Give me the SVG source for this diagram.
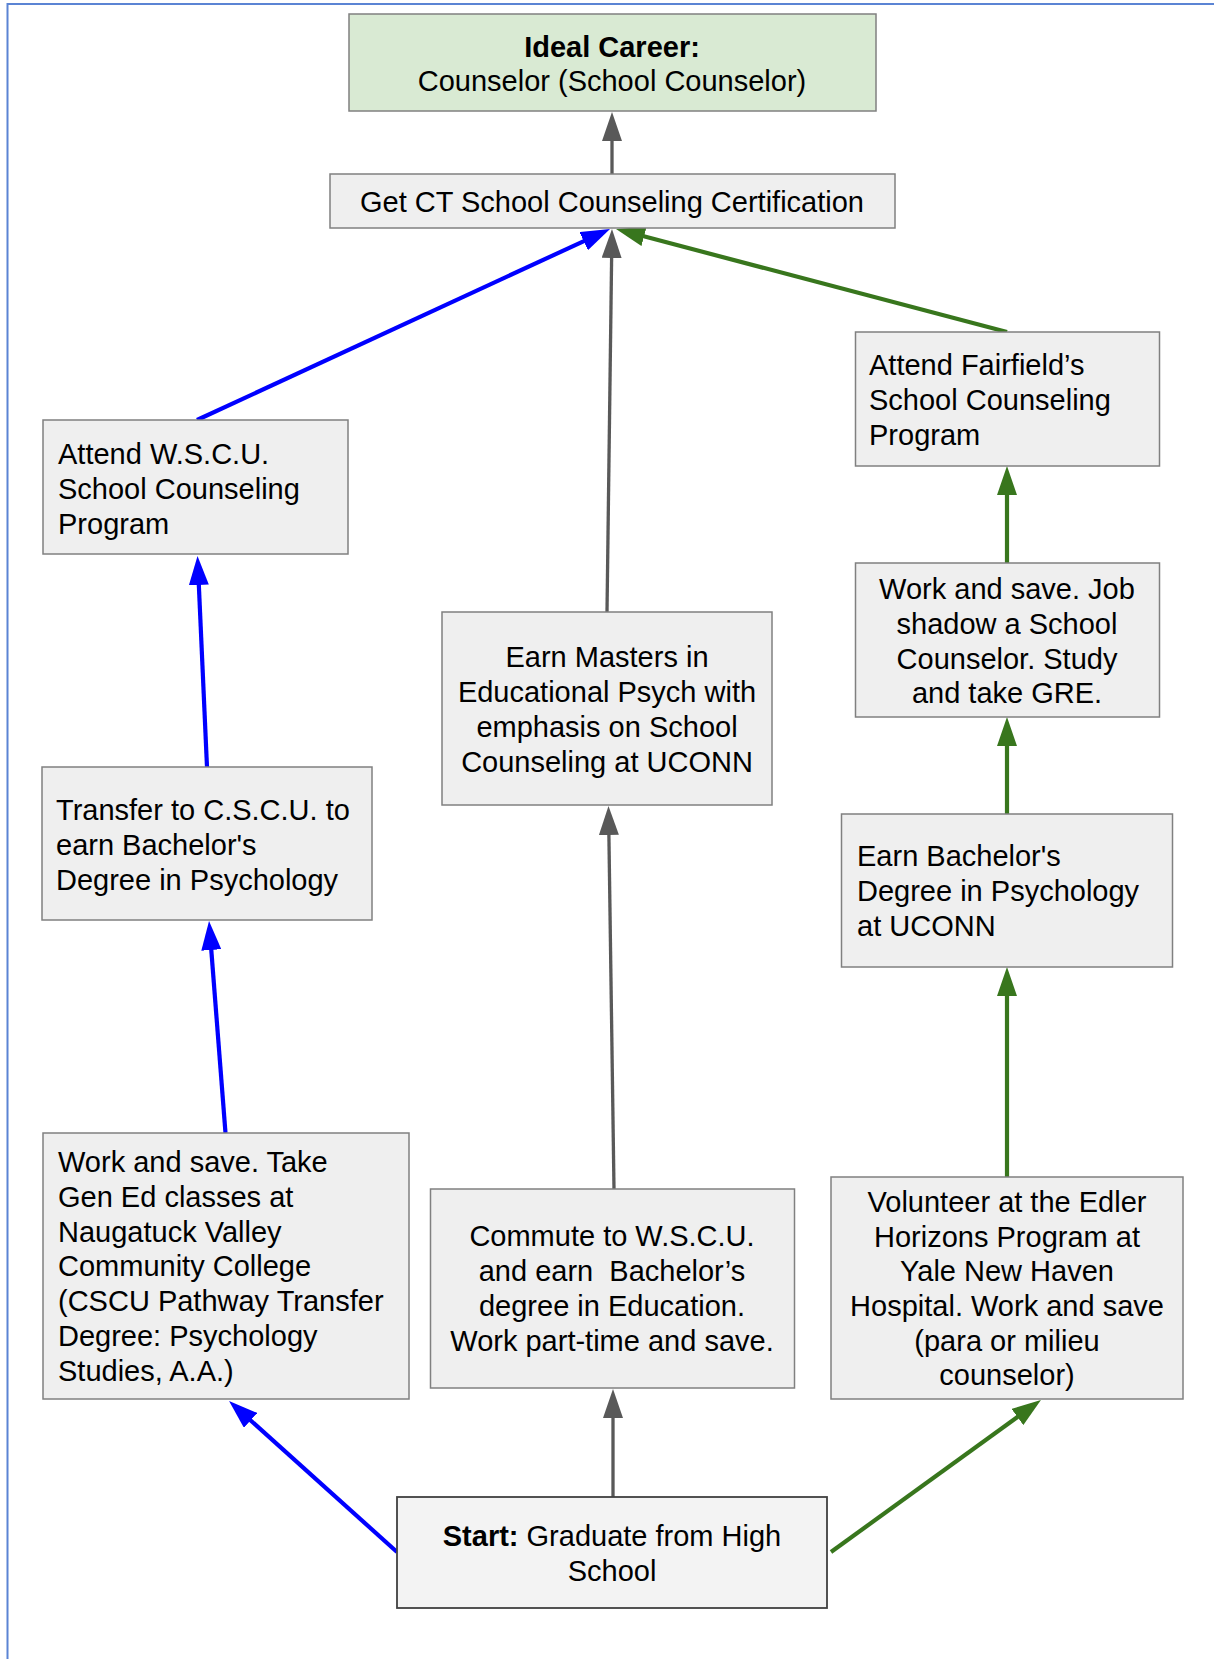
<svg xmlns="http://www.w3.org/2000/svg" width="1214" height="1659" viewBox="0 0 1214 1659">
<defs>
<style>
.box{fill:#efefef;stroke:#808080;stroke-width:1.5}
.t{font-family:"Liberation Sans",Arial,sans-serif;font-size:29px;fill:#000}
.c{text-anchor:middle}
.b{font-weight:bold}
.grey{stroke:#595959;stroke-width:3.3;fill:none}
.blue{stroke:#0000ff;stroke-width:4.2;fill:none}
.green{stroke:#38761d;stroke-width:4.2;fill:none}
</style>
<marker id="ag" viewBox="0 0 29 20" refX="14" refY="10" markerWidth="29" markerHeight="20" markerUnits="userSpaceOnUse" orient="auto"><path d="M0,0 L29,10 L0,20 z" fill="#595959"/></marker>
<marker id="ab" viewBox="0 0 29 20" refX="14" refY="10" markerWidth="29" markerHeight="20" markerUnits="userSpaceOnUse" orient="auto"><path d="M0,0 L29,10 L0,20 z" fill="#0000ff"/></marker>
<marker id="an" viewBox="0 0 29 20" refX="14" refY="10" markerWidth="29" markerHeight="20" markerUnits="userSpaceOnUse" orient="auto"><path d="M0,0 L29,10 L0,20 z" fill="#38761d"/></marker>
</defs>
<rect x="0" y="0" width="1214" height="1659" fill="#ffffff"/>
<path d="M7.5,1659 L7.5,4 L1214,4" fill="none" stroke="#5b84d4" stroke-width="2"/>

<g id="connectors">
<line class="grey" x1="612" y1="174" x2="612" y2="127" marker-end="url(#ag)"/>
<line class="blue" x1="197" y1="420" x2="596.4" y2="235.3" marker-end="url(#ab)"/>
<line class="grey" x1="607" y1="612" x2="611.8" y2="244" marker-end="url(#ag)"/>
<line class="green" x1="1007" y1="332" x2="630.5" y2="232.8" marker-end="url(#an)"/>
<line class="blue" x1="207" y1="767" x2="198.2" y2="571" marker-end="url(#ab)"/>
<line class="blue" x1="225.5" y1="1133" x2="210.2" y2="936" marker-end="url(#ab)"/>
<line class="grey" x1="614" y1="1189" x2="608.7" y2="821" marker-end="url(#ag)"/>
<line class="green" x1="1007" y1="1177" x2="1007" y2="982" marker-end="url(#an)"/>
<line class="green" x1="1007" y1="814" x2="1007" y2="732" marker-end="url(#an)"/>
<line class="green" x1="1007" y1="563" x2="1007" y2="481" marker-end="url(#an)"/>
<line class="blue" x1="397" y1="1552" x2="240.2" y2="1411" marker-end="url(#ab)"/>
<line class="grey" x1="613" y1="1497" x2="613" y2="1404" marker-end="url(#ag)"/>
<line class="green" x1="831" y1="1552" x2="1028.8" y2="1408.8" marker-end="url(#an)"/>
</g>

<g id="ideal">
<rect x="349" y="14" width="527" height="97" fill="#d9ead3" stroke="#808080" stroke-width="1.5"/>
<text class="t c b" x="612" y="57">Ideal Career:</text>
<text class="t c" x="612" y="91">Counselor (School Counselor)</text>
</g>

<g id="cert">
<rect class="box" x="330" y="174" width="565" height="54"/>
<text class="t c" x="612" y="212">Get CT School Counseling Certification</text>
</g>

<g id="wscu">
<rect class="box" x="43" y="420" width="305" height="134"/>
<text class="t" x="58" y="464">Attend W.S.C.U.</text>
<text class="t" x="58" y="499">School Counseling</text>
<text class="t" x="58" y="534">Program</text>
</g>

<g id="fairfield">
<rect class="box" x="855.5" y="332" width="304" height="134"/>
<text class="t" x="869" y="375">Attend Fairfield’s</text>
<text class="t" x="869" y="410">School Counseling</text>
<text class="t" x="869" y="445">Program</text>
</g>

<g id="masters">
<rect class="box" x="442" y="612" width="330" height="193"/>
<text class="t c" x="607" y="667">Earn Masters in</text>
<text class="t c" x="607" y="702">Educational Psych with</text>
<text class="t c" x="607" y="737">emphasis on School</text>
<text class="t c" x="607" y="772">Counseling at UCONN</text>
</g>

<g id="jobshadow">
<rect class="box" x="855.5" y="563" width="304" height="154"/>
<text class="t c" x="1007" y="599">Work and save. Job</text>
<text class="t c" x="1007" y="634">shadow a School</text>
<text class="t c" x="1007" y="669">Counselor. Study</text>
<text class="t c" x="1007" y="703">and take GRE.</text>
</g>

<g id="transfer">
<rect class="box" x="42" y="767" width="330" height="153"/>
<text class="t" x="56" y="820">Transfer to C.S.C.U. to</text>
<text class="t" x="56" y="855">earn Bachelor's</text>
<text class="t" x="56" y="890">Degree in Psychology</text>
</g>

<g id="uconnba">
<rect class="box" x="841.5" y="814" width="331" height="153"/>
<text class="t" x="857" y="866">Earn Bachelor's</text>
<text class="t" x="857" y="901">Degree in Psychology</text>
<text class="t" x="857" y="936">at UCONN</text>
</g>

<g id="nvcc">
<rect class="box" x="43" y="1133" width="366" height="266"/>
<text class="t" x="58" y="1172">Work and save. Take</text>
<text class="t" x="58" y="1207">Gen Ed classes at</text>
<text class="t" x="58" y="1242">Naugatuck Valley</text>
<text class="t" x="58" y="1276">Community College</text>
<text class="t" x="58" y="1311">(CSCU Pathway Transfer</text>
<text class="t" x="58" y="1346">Degree: Psychology</text>
<text class="t" x="58" y="1381">Studies, A.A.)</text>
</g>

<g id="commute">
<rect class="box" x="430.5" y="1189" width="364" height="199"/>
<text class="t c" x="612" y="1246">Commute to W.S.C.U.</text>
<text class="t c" x="612" y="1281" xml:space="preserve">and earn  Bachelor’s</text>
<text class="t c" x="612" y="1316">degree in Education.</text>
<text class="t c" x="612" y="1351">Work part-time and save.</text>
</g>

<g id="volunteer">
<rect class="box" x="831" y="1177" width="352" height="222"/>
<text class="t c" x="1007" y="1212">Volunteer at the Edler</text>
<text class="t c" x="1007" y="1247">Horizons Program at</text>
<text class="t c" x="1007" y="1281">Yale New Haven</text>
<text class="t c" x="1007" y="1316">Hospital. Work and save</text>
<text class="t c" x="1007" y="1351">(para or milieu</text>
<text class="t c" x="1007" y="1385">counselor)</text>
</g>

<g id="start">
<rect x="397" y="1497" width="430" height="111" fill="#f3f3f3" stroke="#404040" stroke-width="1.8"/>
<text class="t c" x="612" y="1546"><tspan class="b">Start:</tspan> Graduate from High</text>
<text class="t c" x="612" y="1581">School</text>
</g>
</svg>
